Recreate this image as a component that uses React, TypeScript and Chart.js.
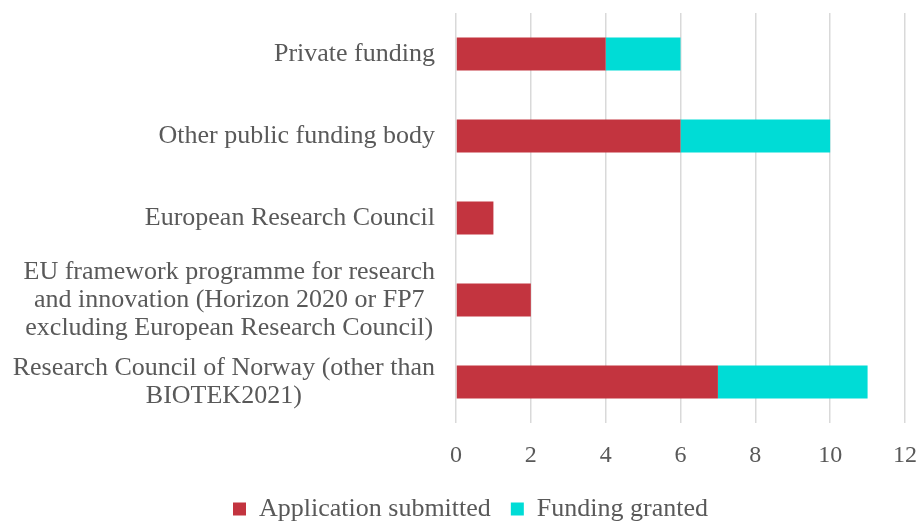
import React, { useEffect, useRef } from "react";
import { Chart, registerables } from "chart.js";

Chart.register(...registerables);

// ---- Data ----
const categories: string[][] = [
  ["Private funding"],
  ["Other public funding body"],
  ["European Research Council"],
  [
    "EU framework programme for research",
    "and innovation (Horizon 2020 or FP7",
    "excluding European Research Council)",
  ],
  ["Research Council of Norway (other than", "BIOTEK2021)"],
];
const seriesNames = ["Application submitted", "Funding granted"];
const applicationSubmitted = [4, 6, 1, 2, 7];
const fundingGranted = [2, 4, 0, 0, 4];
const xTickValues = [0, 2, 4, 6, 8, 10, 12];

// ---- Styles ----
const FONT = '"Liberation Serif", "Times New Roman", serif';
const TEXT_COLOR = "#595959";
const RED = "#C3343F";
const CYAN = "#00DCD6";
const GRID = "#D9D9D9";
const LABEL_SIZE = 26;
const LINE_H = 28;

const yLabelPlugin = {
  id: "yLabelPlugin",
  afterDraw(chart: any) {
    const { ctx, chartArea } = chart;
    const yScale = chart.scales.y;
    ctx.save();
    ctx.font = `${LABEL_SIZE}px ${FONT}`;
    ctx.fillStyle = TEXT_COLOR;
    ctx.textAlign = "center";
    ctx.textBaseline = "middle";
    categories.forEach((lines, i) => {
      const cy = yScale.getPixelForValue(i);
      const maxW = Math.max(...lines.map((l) => ctx.measureText(l).width));
      const cx = chartArea.left - 21 - maxW / 2;
      lines.forEach((l, j) => {
        ctx.fillText(l, cx, cy + (j - (lines.length - 1) / 2) * LINE_H);
      });
    });
    ctx.restore();
  },
};

export default function App() {
  const canvasRef = useRef<HTMLCanvasElement | null>(null);

  useEffect(() => {
    if (!canvasRef.current) return;
    const chart = new Chart(canvasRef.current, {
      type: "bar",
      data: {
        labels: categories,
        datasets: [
          {
            label: seriesNames[0],
            data: applicationSubmitted,
            backgroundColor: RED,
            borderWidth: 0,
            categoryPercentage: 1,
            barPercentage: 0.4,
          },
          {
            label: seriesNames[1],
            data: fundingGranted,
            backgroundColor: CYAN,
            borderWidth: 0,
            categoryPercentage: 1,
            barPercentage: 0.4,
          },
        ],
      },
      options: {
        indexAxis: "y",
        responsive: false,
        animation: false,
        events: [],
        layout: { padding: { top: 13, right: 11, left: 36, bottom: 0 } },
        scales: {
          x: {
            stacked: true,
            min: 0,
            max: 12,
            afterBuildTicks: (scale: any) => {
              scale.ticks = xTickValues.map((v) => ({ value: v }));
            },
            afterFit: (scale: any) => {
              scale.height = 53;
              scale.paddingLeft = 0;
              scale.paddingRight = 0;
            },
            border: { display: false },
            grid: { color: GRID, lineWidth: 1.5, drawTicks: false },
            ticks: {
              color: TEXT_COLOR,
              font: { family: FONT, size: 24 },
              padding: 18,
              maxRotation: 0,
            },
          },
          y: {
            stacked: true,
            afterFit: (scale: any) => {
              scale.width = 420;
            },
            border: { display: false },
            grid: { display: false },
            ticks: { display: false },
          },
        },
        plugins: {
          legend: {
            position: "bottom",
            maxHeight: 46,
            labels: {
              color: TEXT_COLOR,
              font: { family: FONT, size: LABEL_SIZE },
              boxWidth: 13,
              boxHeight: 13,
              padding: 20,
            },
          },
          tooltip: { enabled: false },
        },
      },
      plugins: [yLabelPlugin],
    } as any);
    return () => chart.destroy();
  }, []);

  return (
    <canvas
      ref={canvasRef}
      width={916}
      height={522}
      style={{ position: "absolute", left: 0, top: 0, width: 916, height: 522, background: "#fff" }}
    />
  );
}
